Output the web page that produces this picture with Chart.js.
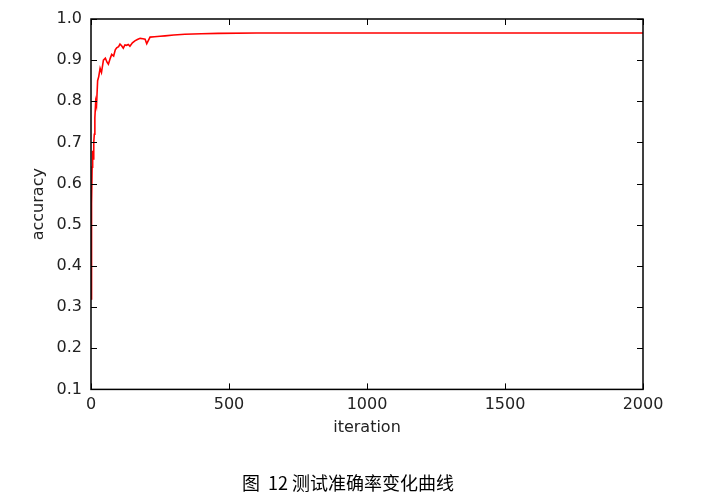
<!DOCTYPE html>
<html>
<head>
<meta charset="utf-8">
<script src="https://cdn.jsdelivr.net/npm/chart.js@4.4.1/dist/chart.umd.min.js"></script>
<style>
  html, body { margin: 0; padding: 0; background: #fff; }
  #wrap { width: 708px; height: 499px; }
</style>
</head>
<body>
<div id="wrap"><canvas id="accChart" width="708" height="499"></canvas></div>
<script>
// iteration / accuracy
const iterations = [0, 2, 4, 6, 8, 10, 12, 14, 17, 20, 24, 28, 33, 38, 45, 52, 58, 63, 70, 75,
    82, 88, 93, 100, 105, 111, 117, 123, 129, 135, 141, 150, 159, 168, 178, 188, 196, 202, 208, 214,
    230, 250, 268, 300, 340, 400, 460, 600, 800, 1000, 1200, 1500, 1800, 2000];
const accuracy = [0.32, 0.55, 0.64, 0.68, 0.66, 0.70, 0.72, 0.76, 0.80, 0.79, 0.85, 0.86, 0.88, 0.87, 0.90, 0.905, 0.895, 0.89, 0.905, 0.914,
    0.91, 0.925, 0.930, 0.933, 0.939, 0.935, 0.929, 0.937, 0.936, 0.938, 0.934, 0.942, 0.947, 0.950, 0.953, 0.952, 0.951, 0.940, 0.948, 0.956,
    0.957, 0.958, 0.959, 0.961, 0.963, 0.964, 0.965, 0.966, 0.966, 0.966, 0.966, 0.966, 0.966, 0.966];
const xTicks = [0, 500, 1000, 1500, 2000];
const yTicks = [0.1, 0.2, 0.3, 0.4, 0.5, 0.6, 0.7, 0.8, 0.9, 1.0];
const caption = "图  12 测试准确率变化曲线";

const tickFont = { family: "'DejaVu Sans', sans-serif", size: 16 };

// matplotlib-style box with inward ticks on all sides
const boxPlugin = {
    id: 'box',
    afterDraw(chart) {
        const { ctx, chartArea: a, scales } = chart;
        ctx.save();
        ctx.strokeStyle = '#000';
        ctx.lineWidth = 1;
        scales.x.ticks.forEach(t => {
            const px = Math.round(scales.x.getPixelForValue(t.value)) + 0.5;
            ctx.beginPath();
            ctx.moveTo(px, a.bottom); ctx.lineTo(px, a.bottom - 6);
            ctx.moveTo(px, a.top); ctx.lineTo(px, a.top + 6);
            ctx.stroke();
        });
        scales.y.ticks.forEach(t => {
            const py = Math.round(scales.y.getPixelForValue(t.value)) + 0.5;
            ctx.beginPath();
            ctx.moveTo(a.left, py); ctx.lineTo(a.left + 6, py);
            ctx.moveTo(a.right, py); ctx.lineTo(a.right - 6, py);
            ctx.stroke();
        });
        ctx.lineWidth = 1.5;
        ctx.strokeRect(a.left, a.top, a.right - a.left, a.bottom - a.top);
        ctx.restore();
    }
};

new Chart(document.getElementById('accChart'), {
    type: 'line',
    data: {
        datasets: [{
            data: iterations.map((it, i) => ({ x: it, y: accuracy[i] })),
            borderColor: '#ff0000',
            borderWidth: 1.6,
            pointRadius: 0,
            tension: 0
        }]
    },
    options: {
        responsive: false,
        animation: false,
        layout: { padding: { left: 0, right: 12, top: 19, bottom: 0 } },
        plugins: {
            legend: { display: false },
            tooltip: { enabled: false },
            title: {
                display: true,
                position: 'bottom',
                text: caption,
                color: '#000',
                font: { family: "'Noto Sans CJK SC', sans-serif", size: 18, weight: 'normal' },
                padding: { top: 32, bottom: 5 }
            }
        },
        scales: {
            x: {
                type: 'linear',
                min: 0, max: 2000,
                afterBuildTicks: s => { s.ticks = xTicks.map(v => ({ value: v })); },
                afterFit: s => { s.height = 51; },
                grid: { display: false, drawTicks: false },
                border: { display: false },
                ticks: { color: '#222', font: tickFont, padding: 6, autoSkip: false, maxRotation: 0, callback: v => String(v) },
                title: { display: true, text: 'iteration', color: '#222', font: tickFont, padding: { top: 0, bottom: 3 } }
            },
            y: {
                min: 0.1, max: 1.0,
                afterBuildTicks: s => { s.ticks = yTicks.map(v => ({ value: v })); },
                afterFit: s => { s.width = 91; },
                grid: { display: false, drawTicks: false },
                border: { display: false },
                ticks: { color: '#222', font: tickFont, padding: 9, callback: v => v.toFixed(1) },
                title: { display: true, text: 'accuracy', color: '#222', font: tickFont, padding: { top: 29, bottom: 0 } }
            },
            yRight: {
                position: 'right',
                display: true,
                afterFit: s => { s.width = 53; },
                grid: { display: false, drawTicks: false },
                border: { display: false },
                ticks: { display: false }
            }
        }
    },
    plugins: [boxPlugin]
});
</script>
</body>
</html>
